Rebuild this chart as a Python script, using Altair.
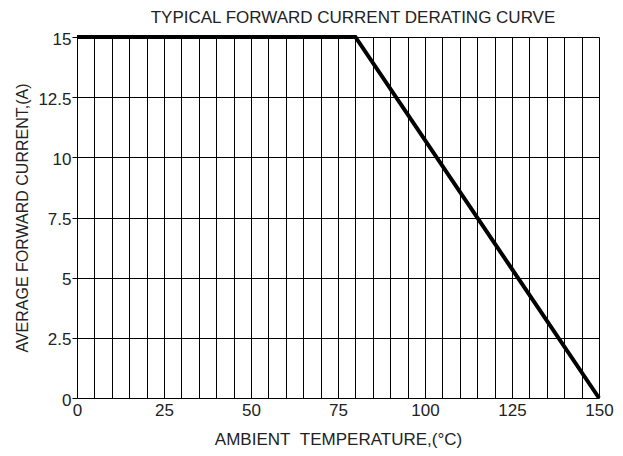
import altair as alt
import pandas as pd

temps = [0, 80, 150]
current = [15, 15, 0]
x_grid = list(range(0, 151, 5))
y_ticks = [0, 2.5, 5, 7.5, 10, 12.5, 15]

df = pd.DataFrame({"t": temps, "i": current})

SANS = "Liberation Sans"

line = alt.Chart(df).mark_line(color="black", strokeWidth=4, clip=False).encode(
    x=alt.X("t:Q", scale=alt.Scale(domain=[0, 150], nice=False),
            axis=alt.Axis(values=x_grid, grid=True, gridColor="black", gridWidth=1, gridOpacity=1,
                          ticks=False, domain=False, labelFlush=False,
                          labelExpr="datum.value % 25 == 0 ? datum.label : ''",
                          labelFont=SANS, labelFontSize=17, labelColor="#222",
                          labelPadding=4,
                          title="AMBIENT\u00a0\u00a0TEMPERATURE,(°C)", titleFont=SANS, titleFontSize=17,
                          titleFontWeight="normal", titleColor="#222", titlePadding=13)),
    y=alt.Y("i:Q", scale=alt.Scale(domain=[0, 15], nice=False),
            axis=alt.Axis(values=y_ticks, grid=True, gridColor="black", gridWidth=1, gridOpacity=1,
                          ticks=True, tickSize=5, tickColor="black", domain=False,
                          labelExpr="datum.value % 1 == 0 ? format(datum.value, 'd') : format(datum.value, '.1f')",
                          labelFont=SANS, labelFontSize=17, labelColor="#222",
                          labelOffset=2, labelPadding=1,
                          title="AVERAGE FORWARD CURRENT,(A)", titleFont=SANS, titleFontSize=16,
                          titleFontWeight="normal", titleColor="#222", titlePadding=7)),
)

chart = line.properties(
    width=522, height=361,
    autosize=alt.AutoSizeParams(type="none"),
    padding={"left": 69, "top": 29, "right": 16, "bottom": 58},
    title=alt.TitleParams("TYPICAL FORWARD CURRENT DERATING CURVE", font=SANS, fontSize=17,
                          fontWeight="normal", color="#222", dx=15, offset=2),
).configure_view(stroke="black", strokeWidth=1.5).configure(background="white")

chart.save("out.html", embed_options={"renderer": "svg", "actions": False})
